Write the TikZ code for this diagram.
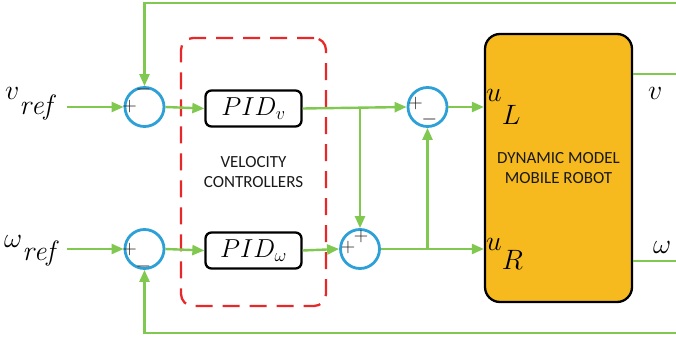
\RequirePackage{fix-cm}
\documentclass[tikz,border=0pt]{standalone}
\usepackage{fontspec}
\newfontfamily\lab{Carlito}
\usetikzlibrary{arrows.meta}
\definecolor{gr}{RGB}{128,200,80}
\definecolor{bl}{RGB}{45,160,215}
\definecolor{rd}{RGB}{232,40,40}
\definecolor{org}{RGB}{246,186,30}
\definecolor{txt}{RGB}{25,25,25}
\begin{document}
\begin{tikzpicture}[x=1pt,y=-1pt,
  sig/.style={gr, line width=2.4pt, -{Triangle[length=12pt,width=10pt]}},
  wire/.style={gr, line width=2.4pt},
  sumc/.style={circle, draw=bl, line width=2.8pt, minimum size=39pt, inner sep=0pt},
  pidbox/.style={draw=black, rounded corners=6pt, line width=2.3pt, minimum width=96pt, minimum height=36pt, inner sep=0pt, fill=white, font=\fontsize{26}{26}\selectfont},
  sgn/.style={inner sep=0pt, font=\fontsize{20}{20}\selectfont, text=txt},
  boxtxt/.style={align=center, text=txt, font=\lab\fontsize{17}{20.5}\selectfont},
  mlab/.style={inner sep=0pt, anchor=base west, font=\fontsize{28}{28}\selectfont}]
\useasboundingbox (0,0) rectangle (676,339);
% controller group
\node[draw=rd, dash pattern=on 17pt off 10pt, line width=2.3pt, rounded corners=12pt,
      minimum width=145pt, minimum height=268pt, inner sep=0pt, boxtxt] (ctrl) at (253.5,172) {VELOCITY\\CONTROLLERS};
% robot
\node[draw=black, fill=org, line width=2.3pt, rounded corners=15pt,
      minimum width=147pt, minimum height=268pt, inner sep=0pt, boxtxt] (rob) at (558.5,168) {DYNAMIC MODEL\\MOBILE ROBOT};
% summing junctions
\node[sumc] (s1) at (144.5,107) {};
\node[sumc] (s2) at (144.5,249) {};
\node[sumc] (s3) at (427.5,107) {};
\node[sumc] (s4) at (360,249) {};
% PID blocks
\node[pidbox] (pv) at (253.5,108.5) {$PID_{v}$};
\node[pidbox] (pw) at (253.5,250.5) {$PID_{\omega}$};
% signs
\node[sgn] at ([xshift=-15pt]s1.center) {$+$};
\node[sgn] at ([xshift=-1pt,yshift=17pt]s1.center) {$-$};
\node[sgn] at ([xshift=-15pt]s2.center) {$+$};
\node[sgn] at ([xshift=-1pt,yshift=-17pt]s2.center) {$-$};
\node[sgn] at ([xshift=-12pt,yshift=3pt]s3.center) {$+$};
\node[sgn] at ([xshift=2pt,yshift=-13pt]s3.center) {$-$};
\node[sgn] at ([xshift=-12pt,yshift=2pt]s4.center) {$+$};
\node[sgn] at ([xshift=1pt,yshift=13pt]s4.center) {$+$};
% labels
\node[mlab] (vref) at (5,100) {$v$\raisebox{-15pt}{$\mathit{ref}$}};
\node[mlab] (wref) at (4,247) {$\omega$\raisebox{-13pt}{$\mathit{ref}$}};
\node[mlab] (uL) at (486,102) {$u$\raisebox{-23pt}{$L$}};
\node[mlab] (uR) at (486,250) {$u$\raisebox{-19pt}{$R$}};
\node[mlab] (vout) at (648,100) {$v$};
\node[mlab] (wout) at (653,253) {$\omega$};
% coordinates
\coordinate (vin) at (67,107);
\coordinate (win) at (67,249);
\coordinate (fbv) at (676,3);
\coordinate (fbw) at (676,333);
\coordinate (vo) at (676,74);
\coordinate (wo) at (676,261);
% connectors
\draw[sig] (vin) -- (s1.west);
\draw[sig] (win) -- (s2.west);
\draw[sig] (s1.east) -- (pv.west);
\draw[sig] (s2.east) -- (pw.west);
\draw[sig] (pv.east) -- (s3.west);
\draw[sig] (pw.east) -- (s4.west);
\draw[sig] (s4.north |- pv.east) -- (s4.north);
\draw[sig] (s4.east) -- (rob.west |- s4.east);
\draw[sig] (s3.south |- s4.east) -- (s3.south);
\draw[sig] (s3.east) -- (rob.west |- s3.east);
\draw[wire] (rob.east |- vo) -- (vo);
\draw[wire] (rob.east |- wo) -- (wo);
\draw[sig] (fbv) -| (s1.north);
\draw[sig] (fbw) -| (s2.south);
\end{tikzpicture}
\end{document}
